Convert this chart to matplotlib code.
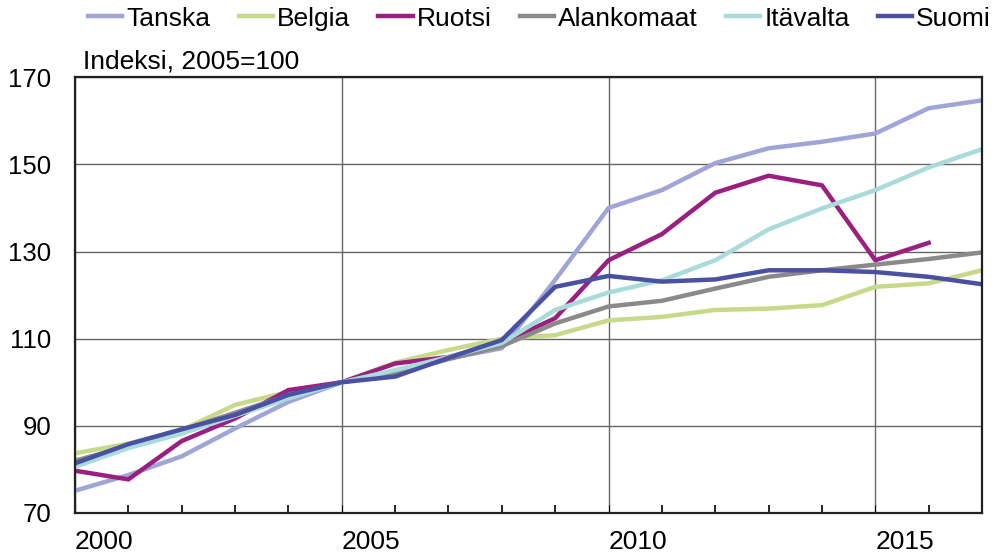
import matplotlib.pyplot as plt
from matplotlib.ticker import MultipleLocator

plt.rcParams['font.family'] = ['Liberation Sans', 'DejaVu Sans']

vuodet = list(range(2000, 2018))

tanska = [75.1, 78.7, 83.0, 89.4, 95.5, 100, 102.5, 105.5, 107.8, 123.5,
          140.0, 144.1, 150.3, 153.7, 155.2, 157.1, 162.9, 164.7]
belgia = [83.7, 85.9, 89.0, 94.8, 97.8, 100, 104.5, 107.4, 110.0, 110.8,
          114.2, 115.0, 116.6, 116.9, 117.7, 121.9, 122.7, 125.7]
ruotsi = [79.7, 77.7, 86.5, 91.7, 98.2, 100, 104.3, 105.8, 109.0, 114.7,
          128.0, 134.0, 143.5, 147.4, 145.2, 128.0, 132.0, None]
alankomaat = [82.0, 85.3, 89.0, 93.0, 97.0, 100, 102.0, 105.3, 108.3, 113.5,
              117.4, 118.7, 121.5, 124.2, 125.7, 127.0, 128.3, 129.8]
itavalta = [80.6, 84.9, 88.2, 92.3, 96.3, 100, 102.8, 105.8, 109.0, 116.6,
            120.6, 123.4, 128.0, 135.1, 139.9, 144.1, 149.3, 153.5]
suomi = [81.4, 85.8, 89.2, 92.5, 97.1, 100, 101.3, 105.6, 109.7, 121.9,
         124.4, 123.1, 123.6, 125.7, 125.7, 125.3, 124.2, 122.5]

sarjat = [
    ('Tanska', tanska, '#a0a5d8'),
    ('Belgia', belgia, '#c6da8a'),
    ('Ruotsi', ruotsi, '#9b1f80'),
    ('Alankomaat', alankomaat, '#8a8a8a'),
    ('Itävalta', itavalta, '#a9dbdb'),
    ('Suomi', suomi, '#4a50a2'),
]

fig = plt.figure(figsize=(10, 5.6), dpi=100)
ax = fig.add_axes([0.075, 0.084, 0.907, 0.778])

for nimi, arvot, vari in sarjat:
    x = [v for v, a in zip(vuodet, arvot) if a is not None]
    y = [a for a in arvot if a is not None]
    ax.plot(x, y, color=vari, lw=3.2, label=nimi)

ax.set_xlim(2000, 2017)
ax.set_ylim(70, 170)
ax.set_yticks([70, 90, 110, 130, 150, 170])
ax.set_xticks([2000, 2005, 2010, 2015])
ax.xaxis.set_minor_locator(MultipleLocator(1))
ax.grid(True, which='major', color='#666666', lw=1)
ax.set_axisbelow(True)

for s in ax.spines.values():
    s.set_linewidth(1.6)
    s.set_color('#222222')

ax.tick_params(axis='x', which='major', direction='in', length=6, pad=12, labelsize=19)
ax.tick_params(axis='x', which='minor', direction='in', length=6, width=1.2)
ax.tick_params(axis='y', length=0, pad=17, labelsize=18.5)
for lab in ax.get_xticklabels():
    lab.set_horizontalalignment('left')

ax.text(0.009, 1.02, 'Indeksi, 2005=100', transform=ax.transAxes,
        fontsize=19, ha='left', va='baseline')

fig.legend(loc='upper left', bbox_to_anchor=(0.088, 0.988), ncol=6,
           frameon=False, fontsize=19, handlelength=1.3, handletextpad=0.15,
           columnspacing=1.07, borderpad=0, borderaxespad=0)

fig.savefig('out.png', dpi=100)
